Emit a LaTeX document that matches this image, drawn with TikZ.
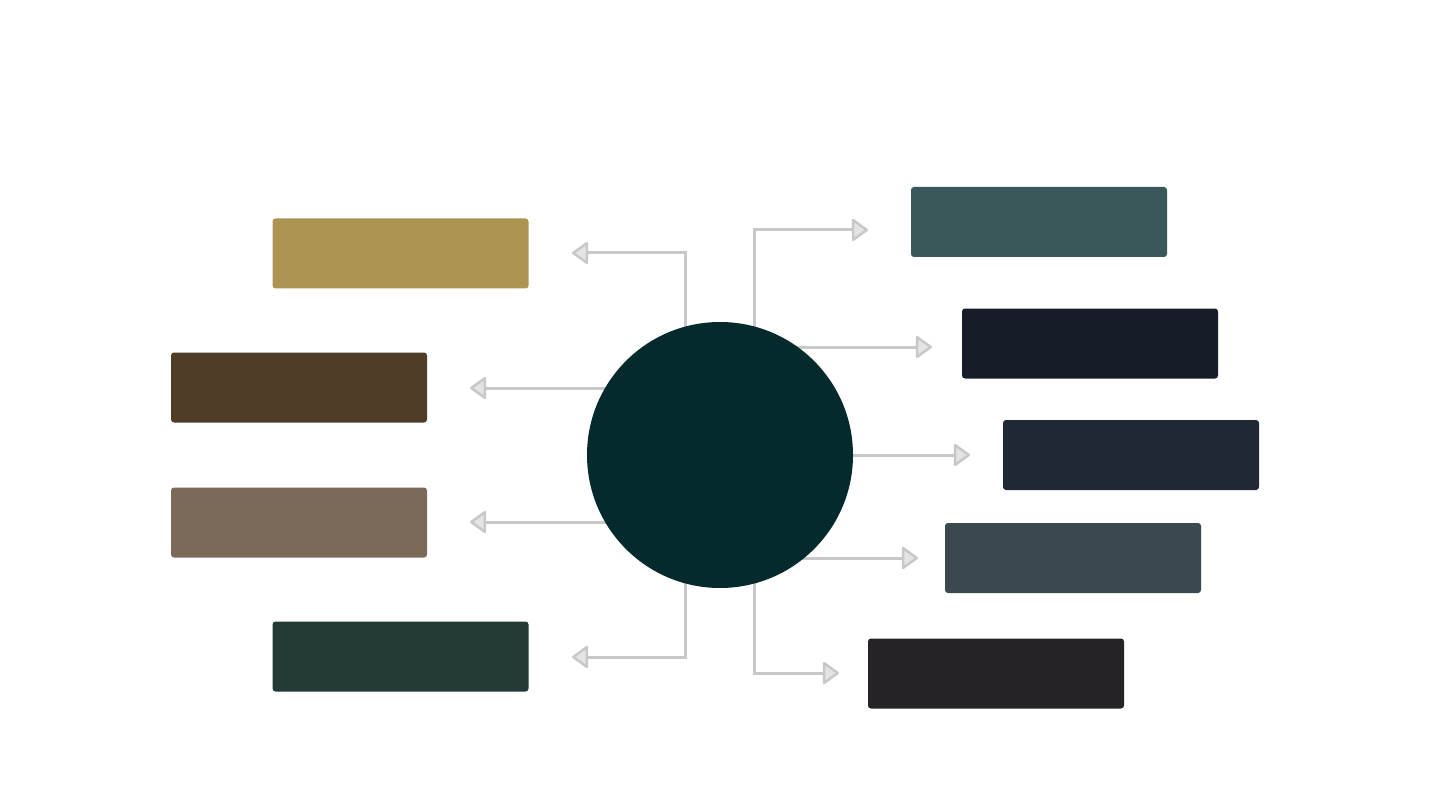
\documentclass[tikz,border=0pt]{standalone}
\usetikzlibrary{arrows.meta,backgrounds}
\definecolor{circ}{HTML}{042A2E}
\definecolor{cA}{HTML}{AD9453}
\definecolor{cB}{HTML}{4F3D28}
\definecolor{cC}{HTML}{7B6A59}
\definecolor{cD}{HTML}{223936}
\definecolor{cE}{HTML}{3A5759}
\definecolor{cF}{HTML}{161D29}
\definecolor{cG}{HTML}{212835}
\definecolor{cH}{HTML}{3B484E}
\definecolor{cI}{HTML}{262326}
\definecolor{lnc}{HTML}{C8C8C8}
\definecolor{tipc}{HTML}{E4E4E4}
\tikzset{
  box/.style={rectangle, rounded corners=3pt, minimum width=256pt, minimum height=70pt, inner sep=0pt},
  conn/.style={draw=lnc, line width=3pt, -{Triangle[length=17pt,width=24pt,fill=tipc,line width=2.5pt,round]}},
}
\begin{document}
\begin{tikzpicture}[x=1pt,y=-1pt]
\useasboundingbox (0,0) rectangle (1440,810);
% central circle
\node[circle, fill=circ, minimum size=266pt, inner sep=0pt] (c) at (720,455) {};
% left boxes
\node[box, fill=cA] (b1) at (400.5,253.5) {};
\node[box, fill=cB] (b2) at (299,387.5) {};
\node[box, fill=cC] (b3) at (299,522.5) {};
\node[box, fill=cD] (b4) at (400.5,656.5) {};
% right boxes
\node[box, fill=cE] (r1) at (1039,222) {};
\node[box, fill=cF] (r2) at (1090,343.5) {};
\node[box, fill=cG] (r3) at (1131,455) {};
\node[box, fill=cH] (r4) at (1073,558) {};
\node[box, fill=cI] (r5) at (996,673.5) {};
% start and tip coordinates
\coordinate (sl1) at (685,455);
\coordinate (sl4) at (685,455);
\coordinate (sr1) at (754,455);
\coordinate (sr5) at (754,455);
\coordinate (tl1) at (572,253);
\coordinate (tl2) at (470,388);
\coordinate (tl3) at (470,522);
\coordinate (tl4) at (572,657);
\coordinate (tr1) at (868,230);
\coordinate (tr2) at (932,347);
\coordinate (tr3) at (970,455);
\coordinate (tr4) at (918,558);
\coordinate (tr5) at (839,673);
\begin{scope}[on background layer]
\path[fill=white] (0,0) rectangle (1440,810);
\draw[conn] (sl1) |- (tl1);
\draw[conn] (c.center |- tl2) -- (tl2);
\draw[conn] (c.center |- tl3) -- (tl3);
\draw[conn] (sl4) |- (tl4);
\draw[conn] (sr1) |- (tr1);
\draw[conn] (c.center |- tr2) -- (tr2);
\draw[conn] (c.center) -- (tr3);
\draw[conn] (c.center |- tr4) -- (tr4);
\draw[conn] (sr5) |- (tr5);
\end{scope}
\end{tikzpicture}
\end{document}
